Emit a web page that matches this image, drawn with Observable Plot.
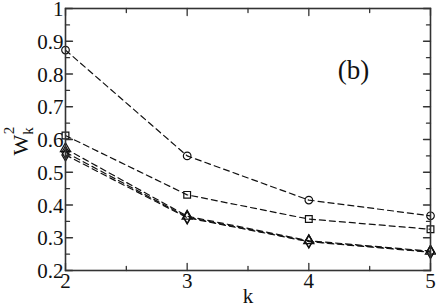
<!DOCTYPE html>
<html><head><meta charset="utf-8">
<script src="https://cdn.jsdelivr.net/npm/d3@7"></script>
<script src="https://cdn.jsdelivr.net/npm/@observablehq/plot@0.6"></script>
</head><body style="margin:0;background:#fff"><div id="chart"></div>
<script>
const ks = [2, 3, 4, 5];
const sCircle = [0.873, 0.550, 0.415, 0.367];
const sSquare = [0.612, 0.431, 0.357, 0.326];
const sTriangle = [0.572, 0.366, 0.291, 0.259];
const sDiamond = [0.561, 0.363, 0.289, 0.257];
const sDiamond2 = [0.553, 0.361, 0.288, 0.256];
const yTicks = [0.2, 0.3, 0.4, 0.5, 0.6, 0.7, 0.8, 0.9, 1];
const yTickLabels = ["0.2", "0.3", "0.4", "0.5", "0.6", "0.7", "0.8", "0.9", "1"];
const yMinor = [0.25, 0.35, 0.45, 0.55, 0.65, 0.75, 0.85, 0.95];
const xTicks = [2, 3, 4, 5];
const xMinor = [2.5, 3.5, 4.5];

const series = [
  {name: "circle", symbol: "circle", vals: sCircle},
  {name: "square", symbol: "square", vals: sSquare},
  {name: "triangle", symbol: "triangle", vals: sTriangle},
  {name: "diamond", symbol: "diamond", vals: sDiamond},
  {name: "diamond2", symbol: "diamond", vals: sDiamond2}
];
const data = series.flatMap(s => s.vals.map((v, i) => ({k: ks[i], w: v, name: s.name, symbol: s.symbol})));

const font = "Liberation Serif";
const axisColor = "#333";
const major = 7, minor = 4;
const xMajT = xTicks.map(x => ({x}));
const xMinT = xMinor.map(x => ({x}));
const yMajT = yTicks.map(y => ({y}));
const yMinT = yMinor.map(y => ({y}));
const tickShape = {draw(c, l){c.moveTo(0,0);c.lineTo(0,-l);}};
const tk = {anchor: "start", stroke: axisColor, strokeWidth: 1.3, shape: tickShape};

const chart = Plot.plot({
  width: 436, height: 308,
  marginLeft: 65, marginRight: 6, marginTop: 8, marginBottom: 38,
  style: {fontFamily: font, background: "#fff"},
  x: {domain: [2, 5], axis: null},
  y: {domain: [0.2, 1], axis: null},
  symbol: {type: "identity"},
  marks: [
    Plot.line(data, {x: "k", y: "w", z: "name", stroke: "#111", strokeWidth: 1.2, strokeDasharray: "6,4"}),
    Plot.dot(data, {x: "k", y: "w", symbol: "symbol", r: 3.8, stroke: "#111", strokeWidth: 1.2, fill: "none"}),
    Plot.vector(yMajT, {x: () => 2, y: "y", length: major, rotate: 90, ...tk}),
    Plot.vector(yMinT, {x: () => 2, y: "y", length: minor, rotate: 90, ...tk}),
    Plot.vector(yMajT, {x: () => 5, y: "y", length: major, rotate: -90, ...tk}),
    Plot.vector(yMinT, {x: () => 5, y: "y", length: minor, rotate: -90, ...tk}),
    Plot.vector(xMajT, {x: "x", y: () => 0.2, length: major, rotate: 0, ...tk}),
    Plot.vector(xMinT, {x: "x", y: () => 0.2, length: minor, rotate: 0, ...tk}),
    Plot.vector(xMajT, {x: "x", y: () => 1, length: major, rotate: 180, ...tk}),
    Plot.vector(xMinT, {x: "x", y: () => 1, length: minor, rotate: 180, ...tk}),
    Plot.frame({stroke: axisColor, strokeWidth: 1.6}),
    Plot.text(yTicks, {x: () => 2, y: d => d, text: (d, i) => yTickLabels[i], textAnchor: "end", dx: -2, dy: 1, fontSize: 21, fontFamily: font, fill: "#111"}),
    Plot.text(xTicks, {x: d => d, y: () => 0.2, text: d => String(d), lineAnchor: "top", dy: 3, fontSize: 21, fontFamily: font, fill: "#111"}),
    Plot.text(["k"], {frameAnchor: "bottom", text: d => d, lineAnchor: "top", dy: 18, fontSize: 21, fontFamily: font, fill: "#111"}),
    Plot.text(["(b)"], {frameAnchor: "top-right", text: d => d, textAnchor: "middle", lineAnchor: "middle", dx: -77, dy: 62, fontSize: 27, fontFamily: font, fill: "#111"})
  ]
});

const svg = d3.select(chart);
const lab = svg.append("text")
  .attr("transform", "translate(28,141) rotate(-90)")
  .attr("text-anchor", "middle")
  .attr("font-family", font)
  .attr("font-size", 22)
  .attr("fill", "#111");
lab.append("tspan").text("W");
lab.append("tspan").attr("font-size", 15).attr("dy", 5).text("k");
lab.append("tspan").attr("font-size", 15).attr("dx", -7).attr("dy", -19).text("2");

document.getElementById("chart").appendChild(chart);
</script>
</body></html>
